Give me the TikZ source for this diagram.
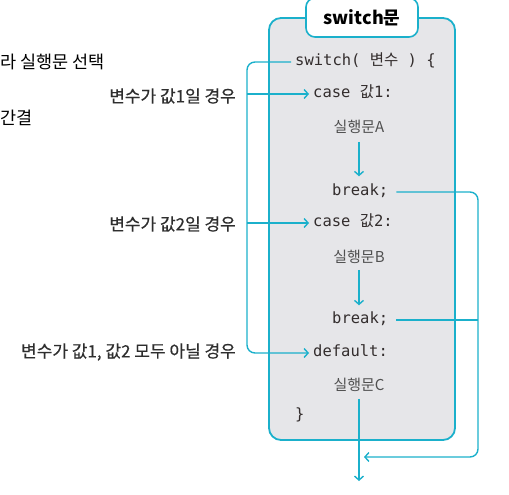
\documentclass[tikz,border=0pt]{standalone}
\usepackage{fontspec}
\setmainfont{Noto Sans CJK KR}
\newfontfamily\kr{Noto Sans CJK KR}
\newfontfamily\krm[FakeBold=0.5]{Noto Sans CJK KR}
\setmonofont{DejaVu Sans Mono}
\usetikzlibrary{arrows.meta}
\definecolor{cy}{HTML}{1BB0CB}
\definecolor{boxfill}{HTML}{E6E6E9}
\definecolor{codec}{HTML}{332D2D}
\definecolor{stmtc}{HTML}{505050}
\definecolor{labc}{HTML}{2E2E2E}
\begin{document}
\begin{tikzpicture}[x=1pt,y=-1pt,
 line/.style={draw=cy, line width=1.4pt},
 arr/.style={line, -{Straight Barb[length=4pt,width=9pt,line width=1.4pt]}},
 code/.style={font=\ttfamily\fontsize{15.5}{18}\selectfont, text=codec, inner xsep=4pt, inner ysep=0pt, text height=10pt, text depth=3pt, anchor=west},
 stmt/.style={font=\kr\fontsize{15}{17}\selectfont, text=stmtc, inner sep=4pt},
 lab/.style={font=\krm\fontsize{17}{19}\selectfont, text=labc, anchor=east, inner sep=0pt},
 note/.style={font=\kr\fontsize{17.5}{20}\selectfont, text=black, anchor=west, inner sep=0pt},
 tab/.style={draw=cy, line width=1.6pt, fill=white, rounded corners=9pt, minimum width=112pt, minimum height=39pt, font=\kr\bfseries\fontsize{18}{20}\selectfont, text=black}]
\useasboundingbox (0,0) rectangle (509,495);

% notes cut at left
\node[note] (n1) at (0,62) {라 실행문 선택};
\node[note] (n2) at (0,118) {간결};

% main box
\draw[draw=cy, line width=1.8pt, fill=boxfill, rounded corners=12pt] (269,18) rectangle (455,440);
\node[tab] (title) at (362,17.5) {switch문};

% code lines
\node[code] (sw) at (291,62) {switch( {\kr 변수} ) \{};
\node[code] (c1) at (309,94) {case {\kr 값}1:};
\node[stmt] (sA) at (359,127) {실행문A};
\node[code] (b1) at (328,192) {break;};
\node[code] (c2) at (309,223) {case {\kr 값}2:};
\node[stmt] (sB) at (359,257) {실행문B};
\node[code] (b2) at (328,320) {break;};
\node[code] (df) at (309,353) {default:};
\node[stmt] (sC) at (359,385) {실행문C};
\node[code] (cl) at (291,416) {\}};

% labels
\node[lab] (l1) at (236,96) {변수가 값1일 경우};
\node[lab] (l2) at (236,224) {변수가 값2일 경우};
\node[lab] (l3) at (236,352) {변수가 값1, 값2 모두 아닐 경우};

% coordinates
\coordinate (lx) at (247,0);
\coordinate (rc) at (478,457);
\coordinate (ret) at (364,457);
\coordinate (out) at (359,481);

% left branch
\draw[arr, rounded corners=8pt] (sw.west) -| (lx |- df.west) -- (df.west);
\draw[arr] (lx |- c1.west) -- (c1.west);
\draw[arr] (lx |- c2.west) -- (c2.west);

% flow inside
\draw[arr, shorten <=4pt, shorten >=9pt] (sA.south) -- (sA.south |- b1.north);
\draw[arr, shorten <=2pt, shorten >=8pt] (sB.south) -- (sB.south |- b2.north);
\draw[arr, shorten <=3pt] (sC.south) -- (out);

% breaks
\draw[arr, rounded corners=8pt, shorten <=4pt] (b1.east) -| (rc) -- (ret);
\draw[line, shorten <=4pt] (b2.east) -- (b2.east -| rc);
\end{tikzpicture}
\end{document}
